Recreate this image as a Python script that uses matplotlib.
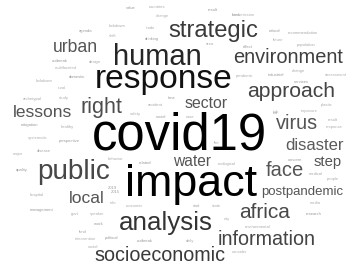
import matplotlib
matplotlib.use("Agg")
import matplotlib.pyplot as plt

# ---- data: words and their relative frequencies ----
words = ["covid19", "impact", "response", "human", "analysis", "strategic",
         "public", "environment", "approach", "right", "africa", "virus",
         "face", "socioeconomic", "information", "urban", "lessons", "local",
         "disaster", "sector", "water", "step", "postpandemic"]
freqs = [36.6, 32.3, 24.1, 21.0, 18.7, 17.1,
         20.1, 14.4, 15.2, 15.5, 15.0, 14.3,
         14.5, 14.2, 14.2, 12.7, 12.5, 12.6,
         12.0, 11.4, 11.2, 10.7, 9.5]

small_words = ["agenda", "lockdown", "shift", "outbreak", "design", "multifaceted",
               "domestic", "lockdown", "rural", "value", "countries", "change",
               "result", "bank", "trade", "drinking", "area", "transmission",
               "critical", "recommendation", "future", "effect", "population",
               "pandemic", "industrial", "change", "assessment", "services",
               "archetypal", "study", "mitigation", "healthy", "systematic",
               "perspective", "disease", "major", "quality",
               "plastic", "exposure", "rot", "result", "response", "concern",
               "medical", "people", "2019", "hospital", "info", "management",
               "govt", "speaker", "work", "fund", "intervention", "political",
               "social", "economic", "visit", "state", "city", "outbreak",
               "daily", "media", "research", "environmental", "consider",
               "time", "accident", "safety", "social", "case", "fire",
               "related", "ecological", "behavior", "2015", "risk"]
small_freq = [3.0] * len(small_words)

# ---- layout (pixel coordinates: centre x, baseline y) ----
pos = [(179.5, 150), (191, 196), (164, 88), (157.5, 65), (166, 230), (213, 37),
       (73.5, 179), (288, 63), (291, 97), (101, 113), (264.5, 218), (297, 129),
       (285, 176), (160, 261), (266.5, 245), (75.5, 52), (42.5, 117), (87, 203),
       (315, 150), (206.5, 108), (192, 166), (328, 166), (302, 195)]
colors = ["#000000", "#000000", "#111111", "#262626", "#333333", "#3a3a3a",
          "#474747", "#3f3f3f", "#444444", "#4d4d4d", "#484848", "#555555",
          "#555555", "#3a3a3a", "#444444", "#555555", "#555555", "#555555",
          "#5a5a5a", "#555555", "#555555", "#555555", "#555555"]

small_pos = [(86, 32), (117, 27), (113, 37), (60, 62), (95, 63), (66, 69),
             (77, 78), (44, 82), (62, 89), (131, 9), (157, 8), (162, 17),
             (213, 11), (236, 16), (151, 29), (152, 40), (210, 45), (243, 16),
             (275, 32), (303, 34), (278, 41), (248, 48), (306, 46),
             (245, 77), (276, 76), (298, 72), (336, 76), (301, 83),
             (32, 100), (64, 99), (30, 126), (67, 128), (38, 139),
             (69, 142), (44, 152), (18, 155), (22, 171),
             (327, 106), (309, 112), (275, 114), (333, 121), (334, 128), (295, 161),
             (316, 175), (333, 180), (112, 189), (37, 196), (113, 204), (42, 211),
             (75, 215), (97, 215), (98, 225), (83, 233), (85, 240), (112, 239),
             (93, 248), (135, 207), (197, 207), (216, 207), (227, 220), (145, 242),
             (190, 242), (315, 204), (314, 215), (258, 228), (240, 253),
             (172, 99), (155, 106), (135, 115), (161, 118), (190, 118), (217, 144),
             (145, 164), (227, 165), (116, 160), (115, 190 + 3), (276, 113)]
small_colors = ["#9a9a9a", "#aaaaaa", "#b0b0b0"]

fig = plt.figure(figsize=(3.53, 2.70), dpi=100)
ax = fig.add_axes([0, 0, 1, 1])
ax.set_xlim(0, 353)
ax.set_ylim(270, 0)
ax.axis("off")
fig.patch.set_facecolor("white")

font = "Liberation Sans"
for i, (w, f) in enumerate(zip(small_words, small_freq)):
    x, y = small_pos[i]
    ax.text(x, y, w, fontsize=f, family=font, color=small_colors[i % 3],
            ha="center", va="baseline")

for w, f, (x, y), c in zip(words, freqs, pos, colors):
    ax.text(x, y, w, fontsize=f, family=font, color=c,
            ha="center", va="baseline")

fig.savefig("out.png", dpi=100, facecolor="white")
